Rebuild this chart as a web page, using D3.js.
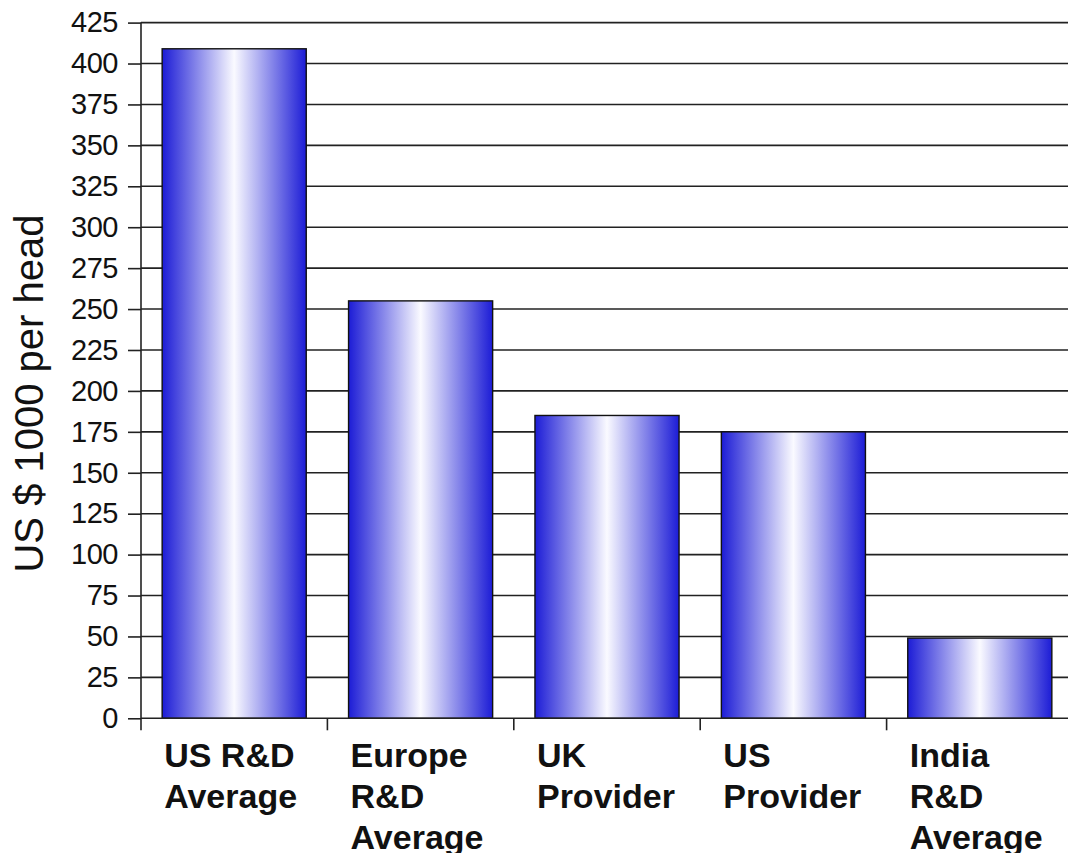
<!DOCTYPE html>
<html>
<head>
<meta charset="utf-8">
<script src="https://cdn.jsdelivr.net/npm/d3@7"></script>
<style>
  html, body { margin: 0; padding: 0; background: #fff; }
  svg { display: block; }
</style>
</head>
<body>
<svg id="chart" width="1068" height="853"></svg>
<script>
const categories = [
  ["US R&D", "Average"],
  ["Europe", "R&D", "Average"],
  ["UK", "Provider"],
  ["US", "Provider"],
  ["India", "R&D", "Average"]
];
const values = [409, 255, 185, 175, 49];
const yTicks = [0, 25, 50, 75, 100, 125, 150, 175, 200, 225, 250, 275, 300, 325, 350, 375, 400, 425];
const yTitle = "US $ 1000 per head";

const svg = d3.select("#chart");
const x0 = 141, x1 = 1073, yTop = 22.6, yBottom = 718.3;

const x = d3.scaleBand()
  .domain(d3.range(categories.length))
  .range([x0, x1])
  .paddingInner(0.227)
  .paddingOuter(0.1135);

const y = d3.scaleLinear().domain([0, 425]).range([yBottom, yTop]);

const defs = svg.append("defs");
const grad = defs.append("linearGradient").attr("id", "barGrad")
  .attr("x1", "0%").attr("x2", "100%").attr("y1", "0%").attr("y2", "0%");
grad.append("stop").attr("offset", "0%").attr("stop-color", "#1c1cd6");
grad.append("stop").attr("offset", "50%").attr("stop-color", "#fafaff");
grad.append("stop").attr("offset", "100%").attr("stop-color", "#1c1cd6");

// gridlines
svg.append("g").selectAll("line").data(yTicks.filter(d => d > 0)).join("line")
  .attr("x1", x0).attr("x2", 1068)
  .attr("y1", d => y(d)).attr("y2", d => y(d))
  .attr("stroke", "#222").attr("stroke-width", 1.6);

// bars
svg.append("g").selectAll("rect").data(values).join("rect")
  .attr("x", (d, i) => x(i))
  .attr("width", x.bandwidth())
  .attr("y", d => y(d))
  .attr("height", d => y(0) - y(d))
  .attr("fill", "url(#barGrad)")
  .attr("stroke", "#111")
  .attr("stroke-width", 1.4);

// y axis
const yAxis = d3.axisLeft(y).tickValues(yTicks).tickSize(13).tickPadding(10);
const gy = svg.append("g").attr("transform", `translate(${x0},0)`).call(yAxis);
gy.select(".domain").remove();
gy.selectAll(".tick line").attr("stroke", "#222").attr("stroke-width", 1.6);
gy.selectAll(".tick text")
  .attr("font-family", "'Liberation Sans', Arial, sans-serif")
  .attr("font-size", 29).attr("fill", "#111").attr("letter-spacing", -0.5);
svg.append("line").attr("x1", x0).attr("x2", x0).attr("y1", yTop).attr("y2", yBottom + 12)
  .attr("stroke", "#222").attr("stroke-width", 1.6);

// x axis baseline + ticks
svg.append("line").attr("x1", x0).attr("x2", 1068).attr("y1", yBottom).attr("y2", yBottom)
  .attr("stroke", "#222").attr("stroke-width", 1.6);
svg.append("g").selectAll("line").data(d3.range(1, categories.length)).join("line")
  .attr("x1", i => x0 + i * x.step()).attr("x2", i => x0 + i * x.step())
  .attr("y1", yBottom).attr("y2", yBottom + 12)
  .attr("stroke", "#222").attr("stroke-width", 1.6);

// category labels
const labels = svg.append("g")
  .attr("font-family", "'Liberation Sans', Arial, sans-serif")
  .attr("font-weight", "bold").attr("font-size", 34).attr("fill", "#111");
categories.forEach((lines, i) => {
  const t = labels.append("text").attr("x", x(i) + 2).attr("y", 767);
  lines.forEach((ln, j) => {
    t.append("tspan").attr("x", x(i) + 2).attr("y", 767 + j * 41).text(ln);
  });
});

// y title
svg.append("text")
  .attr("transform", "translate(43,393.5) rotate(-90)")
  .attr("text-anchor", "middle")
  .attr("font-family", "'Liberation Sans', Arial, sans-serif")
  .attr("font-size", 40).attr("fill", "#111")
  .text(yTitle);
</script>
</body>
</html>
